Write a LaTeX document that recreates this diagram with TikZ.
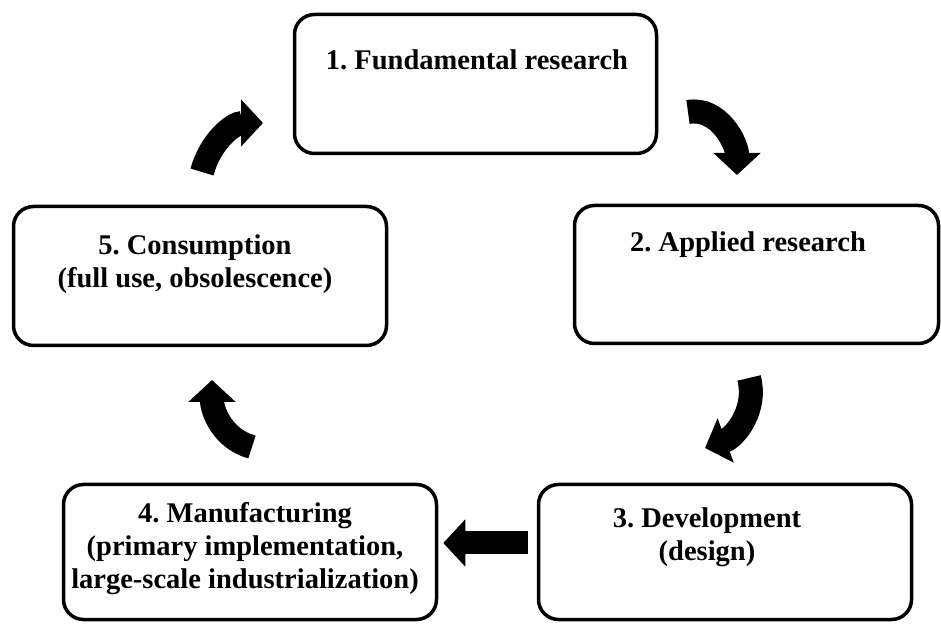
\documentclass[tikz,border=0pt]{standalone}
\usepackage{fontspec}
\setmainfont{Liberation Serif}
\usepackage{tikz}
\usetikzlibrary{arrows.meta}
\tikzstyle{Stage}=[draw=black,line width=3.5pt,rounded corners=20pt,
inner sep=0pt,fill=white]
\tikzstyle{StageText}=[font=\bfseries\fontsize{28.5}{33}\selectfont\frenchspacing,
align=center,inner sep=0pt,anchor=north]
\tikzstyle{Turn}=[draw=black,line width=24pt,
-{Triangle[length=22pt,width=46pt]}]

\begin{document}
\begin{tikzpicture}[x=1pt,y=1pt]
        \useasboundingbox(0,0)rectangle(941,623);
        % the five stages
        \node[Stage,minimum width=362pt,minimum height=139pt](1)at(475.5,539){};
        \node[Stage,minimum width=364pt,minimum height=138pt](2)at(756.5,348.5){};
        \node[Stage,minimum width=373pt,minimum height=135pt](3)at(725,71){};
        \node[Stage,minimum width=373pt,minimum height=135pt](4)at(250,71){};
        \node[Stage,minimum width=373pt,minimum height=139pt](5)at(200,347){};
        \node[StageText](t1)at(477,573){1. Fundamental research};
        \node[StageText](t2)at(748,391){2. Applied research};
        \node[StageText](t3)at(707,115){3. Development\\(design)};
        \node[StageText](t4)at(245,121)
            {4. Manufacturing\\(primary implementation,\\large-scale industrialization)};
        \node[StageText](t5)at(195,388){5. Consumption\\(full use, obsolescence)};
        % bent arrows between the stages
        \coordinate(a12)at(688,511);
        \coordinate(b12)at(737,448);
        \coordinate(a23)at(749,245);
        \coordinate(b23)at(705,175);
        \coordinate(a45)at(252,176);
        \coordinate(b45)at(212,243);
        \coordinate(a51)at(202,451);
        \coordinate(b51)at(263,500);
        \draw[Turn](a12)to[out=10,in=90](b12);
        \draw[Turn](a23)to[out=-75,in=20](b23);
        \draw[Turn](a45)to[out=165,in=-90](b45);
        \draw[Turn](a51)to[out=75,in=180](b51);
        \draw[Turn,line width=23pt]([shift={(-9,9)}]3.west)--([shift={(5,9)}]4.east);
    \end{tikzpicture}
\end{document}
